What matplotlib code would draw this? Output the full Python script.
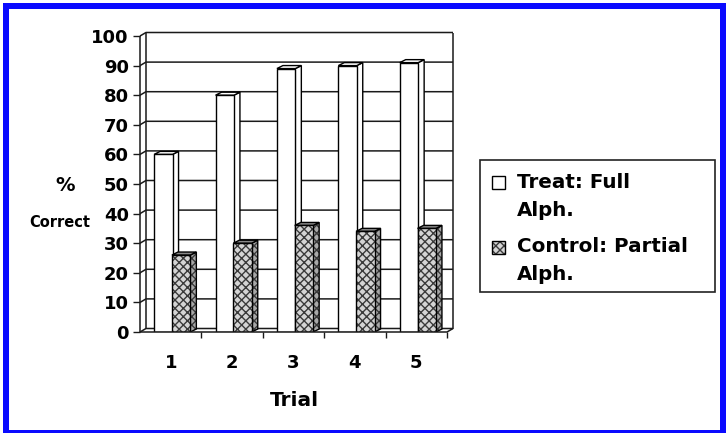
import matplotlib
matplotlib.use("Agg")
import matplotlib.pyplot as plt
from matplotlib.patches import Polygon, Rectangle

# ---- data -------------------------------------------------------------
trials = ["1", "2", "3", "4", "5"]
treat_full = [60, 80, 89, 90, 91]
control_partial = [26, 30, 36, 34, 35]
y_ticks = [0, 10, 20, 30, 40, 50, 60, 70, 80, 90, 100]
legend_lines = [["Treat: Full", "Alph."], ["Control: Partial", "Alph."]]

plt.rcParams['font.family'] = ['DejaVu Sans']
plt.rcParams['hatch.linewidth'] = 1.0

W, H, DPI = 728, 433, 100
fig = plt.figure(figsize=(W / DPI, H / DPI), dpi=DPI)
fig.patch.set_facecolor('white')


def fx(px):
    return px / W


def fy(py):
    return 1 - py / H


# front plane of the plot area, in pixels
X0, X1, Y0, Y1 = 140, 447, 332, 36
ax = fig.add_axes([fx(X0), fy(Y0), fx(X1) - fx(X0), fy(Y1) - fy(Y0)])
ax.set_xlim(0.5, 5.5)
ax.set_ylim(0, 100)
ax.set_facecolor('none')
for s in ax.spines.values():
    s.set_visible(False)

# depth offsets in data units
x_per_px = 5.0 / (X1 - X0)
y_per_px = 100.0 / (Y0 - Y1)
DX, DY = 6 * x_per_px, 3.5 * y_per_px      # back wall
BDX, BDY = 6 * x_per_px, 3.0 * y_per_px    # bar depth

line_kw = dict(color='#1a1a1a', lw=1.1, clip_on=False, solid_capstyle='butt')

# back wall with gridlines, plus the side wall edge
for y in y_ticks:
    ax.plot([0.5, 0.5 + DX, 5.5 + DX], [y, y + DY, y + DY], zorder=1, **line_kw)
ax.plot([0.5 + DX] * 2, [DY, 100 + DY], zorder=1, **line_kw)
ax.plot([5.5 + DX] * 2, [DY, 100 + DY], zorder=1, **line_kw)
ax.plot([0.5, 0.5], [0, 100], zorder=1, **line_kw)
ax.plot([0.5, 5.5, 5.5 + DX], [0, 0, DY], zorder=8, **line_kw)

# axis ticks and labels
ax.set_yticks(y_ticks)
ax.set_yticklabels([str(v) for v in y_ticks], fontsize=13, fontweight='bold')
ax.tick_params(axis='y', length=5, width=1, pad=3, color='#1a1a1a')
pos = list(range(1, len(trials) + 1))
ax.set_xticks(pos)
ax.set_xticklabels(trials, fontsize=13, fontweight='bold')
ax.set_xticks([p + 0.5 for p in pos], minor=True)
ax.tick_params(axis='x', which='major', length=0, pad=16)
ax.tick_params(axis='x', which='minor', length=4, width=1, color='#1a1a1a')

w = 0.3
x_treat = [p - 0.12 for p in pos]
x_ctrl = [p + 0.17 for p in pos]

HATCH = 'xxxx'
HATCH_EC = '#3a3a3a'
HATCH_FC = '#d4d4d4'


def bars_3d(xc, values, z, hatched):
    face = HATCH_FC if hatched else 'white'
    side_face = '#a8a8a8' if hatched else 'white'
    hatch = HATCH if hatched else None
    bars = ax.bar(xc, values, width=w, color=face, edgecolor=HATCH_EC if hatched else 'black',
                  lw=0 if hatched else 1.0, hatch=hatch, zorder=z)
    for rect, v in zip(bars, values):
        xl = rect.get_x()
        xr = xl + rect.get_width()
        side_pts = [(xr, 0), (xr + BDX, BDY), (xr + BDX, v + BDY), (xr, v)]
        side = Polygon(side_pts, closed=True, facecolor=side_face, hatch=hatch,
                       edgecolor=HATCH_EC if hatched else 'black',
                       lw=0 if hatched else 1.0, zorder=z - 0.2)
        top = Polygon([(xl, v), (xl + BDX, v + BDY), (xr + BDX, v + BDY), (xr, v)],
                      closed=True, facecolor='#888888' if hatched else 'white',
                      edgecolor='black', lw=1.0, zorder=z - 0.1)
        ax.add_patch(side)
        ax.add_patch(top)
        if hatched:
            ax.add_patch(Polygon(side_pts, closed=True, fill=False, edgecolor='black',
                                 lw=1.0, zorder=z - 0.15))
    if hatched:
        ax.bar(xc, values, width=w, fill=False, edgecolor='black', lw=1.0, zorder=z + 0.1)


bars_3d(x_treat, treat_full, 3, False)
bars_3d(x_ctrl, control_partial, 5, True)

# axis titles
fig.text(fx(65), fy(185), "%", ha='center', va='center', fontsize=14, fontweight='bold')
fig.text(fx(60), fy(223), "Correct", ha='center', va='center', fontsize=10.5, fontweight='bold')
fig.text(fx(294), fy(401), "Trial", ha='center', va='center', fontsize=14.5, fontweight='bold')

# legend
fig.patches.append(Rectangle((fx(480), fy(292)), fx(715) - fx(480), fy(160) - fy(292),
                             transform=fig.transFigure, fill=False, ec='#222222', lw=1.2))
entry_y = [182, 247]
for i, (lines, ey) in enumerate(zip(legend_lines, entry_y)):
    hatched = i == 1
    box = ((fx(492), fy(ey + 6.5)), fx(505) - fx(492), fy(ey - 6.5) - fy(ey + 6.5))
    fig.patches.append(Rectangle(*box, transform=fig.transFigure,
                                 facecolor=HATCH_FC if hatched else 'white',
                                 edgecolor=HATCH_EC if hatched else 'black',
                                 lw=0 if hatched else 1.0,
                                 hatch=HATCH if hatched else None))
    if hatched:
        fig.patches.append(Rectangle(*box, transform=fig.transFigure, fill=False,
                                     edgecolor='black', lw=1.0))
    for k, txt in enumerate(lines):
        fig.text(fx(517), fy(ey + 28 * k), txt, ha='left', va='center',
                 fontsize=14.3, fontweight='bold')

# blue frame around the figure
fig.patches.append(Rectangle((fx(5.5), fy(433)), fx(722.5) - fx(5.5), fy(6) - fy(433),
                             transform=fig.transFigure, fill=False, ec='#0a0aff', lw=6 * 72 / DPI))

fig.savefig('out.png', dpi=DPI)
